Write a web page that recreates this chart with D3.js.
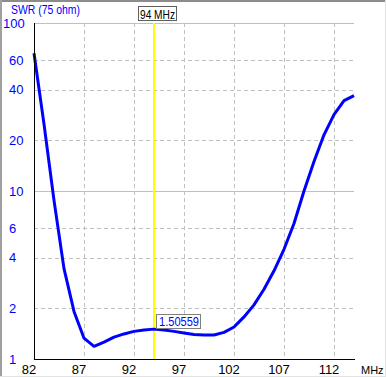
<!DOCTYPE html>
<html>
<head>
<meta charset="utf-8">
<script src="https://d3js.org/d3.v7.min.js"></script>
<style>
  body { margin: 0; background: #fff; }
  text { font-family: "Liberation Sans", Arial, sans-serif; font-size: 12px; }
</style>
</head>
<body>
<div id="chart"></div>
<script>
const freqs = [82, 83, 84, 85, 86, 87, 88, 89, 90, 91, 92, 93, 94, 95, 96, 97,
               98, 99, 100, 101, 102, 103, 104, 105, 106, 107, 108, 109, 110, 111, 112, 113, 114];
const swr = [66, 25, 8.8, 3.45, 1.92, 1.33, 1.19, 1.26, 1.35, 1.41, 1.46, 1.49, 1.506, 1.49, 1.46, 1.43,
             1.40, 1.39, 1.39, 1.44, 1.55, 1.78, 2.1, 2.6, 3.35, 4.5, 6.4, 10, 15, 21.6, 28.5, 34.5, 37];
const xTicks = [82, 87, 92, 97, 102, 107, 112];
const yTicks = [1, 2, 4, 6, 10, 20, 40, 60, 100];
const solidY = [10, 100];
const markerFreq = 94;
const markerLabel = "94 MHz";
const markerValue = "1.50559";

const W = 386, H = 377;
const margin = {top: 23, right: 32, bottom: 18, left: 34},
    width = W - margin.left - margin.right,
    height = H - margin.top - margin.bottom;

const root = d3.select("#chart").append("svg")
    .attr("width", W)
    .attr("height", H);

// window frame
root.append("rect").attr("x", 0).attr("y", 0).attr("width", W).attr("height", 2).attr("fill", "#8c8c8c");
root.append("rect").attr("x", 0).attr("y", 0).attr("width", 2).attr("height", H).attr("fill", "#a0a0a0");
root.append("rect").attr("x", 0).attr("y", H - 1).attr("width", W).attr("height", 1).attr("fill", "#e3e3e3");
root.append("rect").attr("x", W - 1).attr("y", 0).attr("width", 1).attr("height", H).attr("fill", "#e3e3e3");

const svg = root.append("g")
    .attr("transform", `translate(${margin.left},${margin.top})`);

const x = d3.scaleLinear().domain([82, 114]).range([0, width]);
const y = d3.scaleLog().domain([1, 100]).range([height, 0]);

const px = v => Math.round(x(v)) + 0.5;
const py = v => Math.round(y(v)) + 0.5;

// grid
svg.selectAll("line.vgrid")
  .data(xTicks.slice(1))
  .enter().append("line")
    .attr("class", "vgrid")
    .attr("x1", px).attr("x2", px)
    .attr("y1", 0).attr("y2", height)
    .attr("stroke", "#c0c0c0")
    .attr("stroke-dasharray", "4,3");

svg.selectAll("line.hgrid")
  .data(yTicks.slice(1))
  .enter().append("line")
    .attr("class", "hgrid")
    .attr("x1", 0).attr("x2", width)
    .attr("y1", py).attr("y2", py)
    .attr("stroke", "#c0c0c0")
    .attr("stroke-dasharray", d => solidY.includes(d) ? null : "4,3");

// marker line
svg.append("rect")
    .attr("x", Math.round(x(markerFreq)) - 1)
    .attr("y", 0)
    .attr("width", 2)
    .attr("height", height)
    .attr("fill", "#ffff00");

// SWR curve
const line = d3.line()
    .x((d, i) => x(freqs[i]))
    .y(d => y(d));

svg.append("path")
    .datum(swr)
    .attr("fill", "none")
    .attr("stroke", "#0000ff")
    .attr("stroke-width", 3)
    .attr("stroke-linejoin", "round")
    .attr("d", line);

// axes lines
svg.append("line")
    .attr("x1", 0.5).attr("x2", 0.5)
    .attr("y1", 0).attr("y2", height + 0.5)
    .attr("stroke", "#000");
svg.append("line")
    .attr("x1", 0).attr("x2", width + 1)
    .attr("y1", height + 0.5).attr("y2", height + 0.5)
    .attr("stroke", "#000");

// y labels
root.selectAll("text.ylab")
  .data(yTicks)
  .enter().append("text")
    .attr("class", "ylab")
    .attr("x", d => String(d).length > 2 ? 3 : 9)
    .attr("y", d => margin.top + y(d))
    .attr("dominant-baseline", "central")
    .attr("fill", "#0000ff")
    .style("font-size", "13px")
    .text(d => d);

// x labels
root.selectAll("text.xlab")
  .data(xTicks)
  .enter().append("text")
    .attr("class", "xlab")
    .attr("x", d => margin.left + x(d) - 5)
    .attr("y", 369.5)
    .attr("text-anchor", "middle")
    .attr("dominant-baseline", "central")
    .attr("fill", "#000")
    .style("font-size", "13px")
    .text(d => d);

root.append("text")
    .attr("x", 361)
    .attr("y", 369.5)
    .attr("dominant-baseline", "central")
    .attr("fill", "#000")
    .style("font-size", "11px")
    .text("MHz");

root.append("text")
    .attr("x", 11)
    .attr("y", 9.5)
    .attr("dominant-baseline", "central")
    .attr("fill", "#0000ff")
    .attr("textLength", 69)
    .attr("lengthAdjust", "spacingAndGlyphs")
    .style("font-size", "13px")
    .text("SWR (75 ohm)");

// marker frequency box
const xm = margin.left + x(markerFreq);
root.append("rect")
    .attr("x", Math.round(xm) - 15.5)
    .attr("y", 6.5)
    .attr("width", 38)
    .attr("height", 14)
    .attr("fill", "#fff")
    .attr("stroke", "#606060");
root.append("text")
    .attr("x", Math.round(xm) - 14)
    .attr("y", 14)
    .attr("dominant-baseline", "central")
    .attr("fill", "#000")
    .attr("textLength", 35)
    .attr("lengthAdjust", "spacingAndGlyphs")
    .style("font-size", "13px")
    .text(markerLabel);

// marker value box
const ym = margin.top + y(+markerValue);
root.append("rect")
    .attr("x", Math.round(xm) + 2.5)
    .attr("y", Math.round(ym) - 14.5)
    .attr("width", 44)
    .attr("height", 14)
    .attr("fill", "#fff")
    .attr("stroke", "#808080");
root.append("text")
    .attr("x", Math.round(xm) + 5)
    .attr("y", Math.round(ym) - 7.5)
    .attr("dominant-baseline", "central")
    .attr("fill", "#0000ff")
    .attr("textLength", 40)
    .attr("lengthAdjust", "spacingAndGlyphs")
    .style("font-size", "13px")
    .text(markerValue);
</script>
</body>
</html>
